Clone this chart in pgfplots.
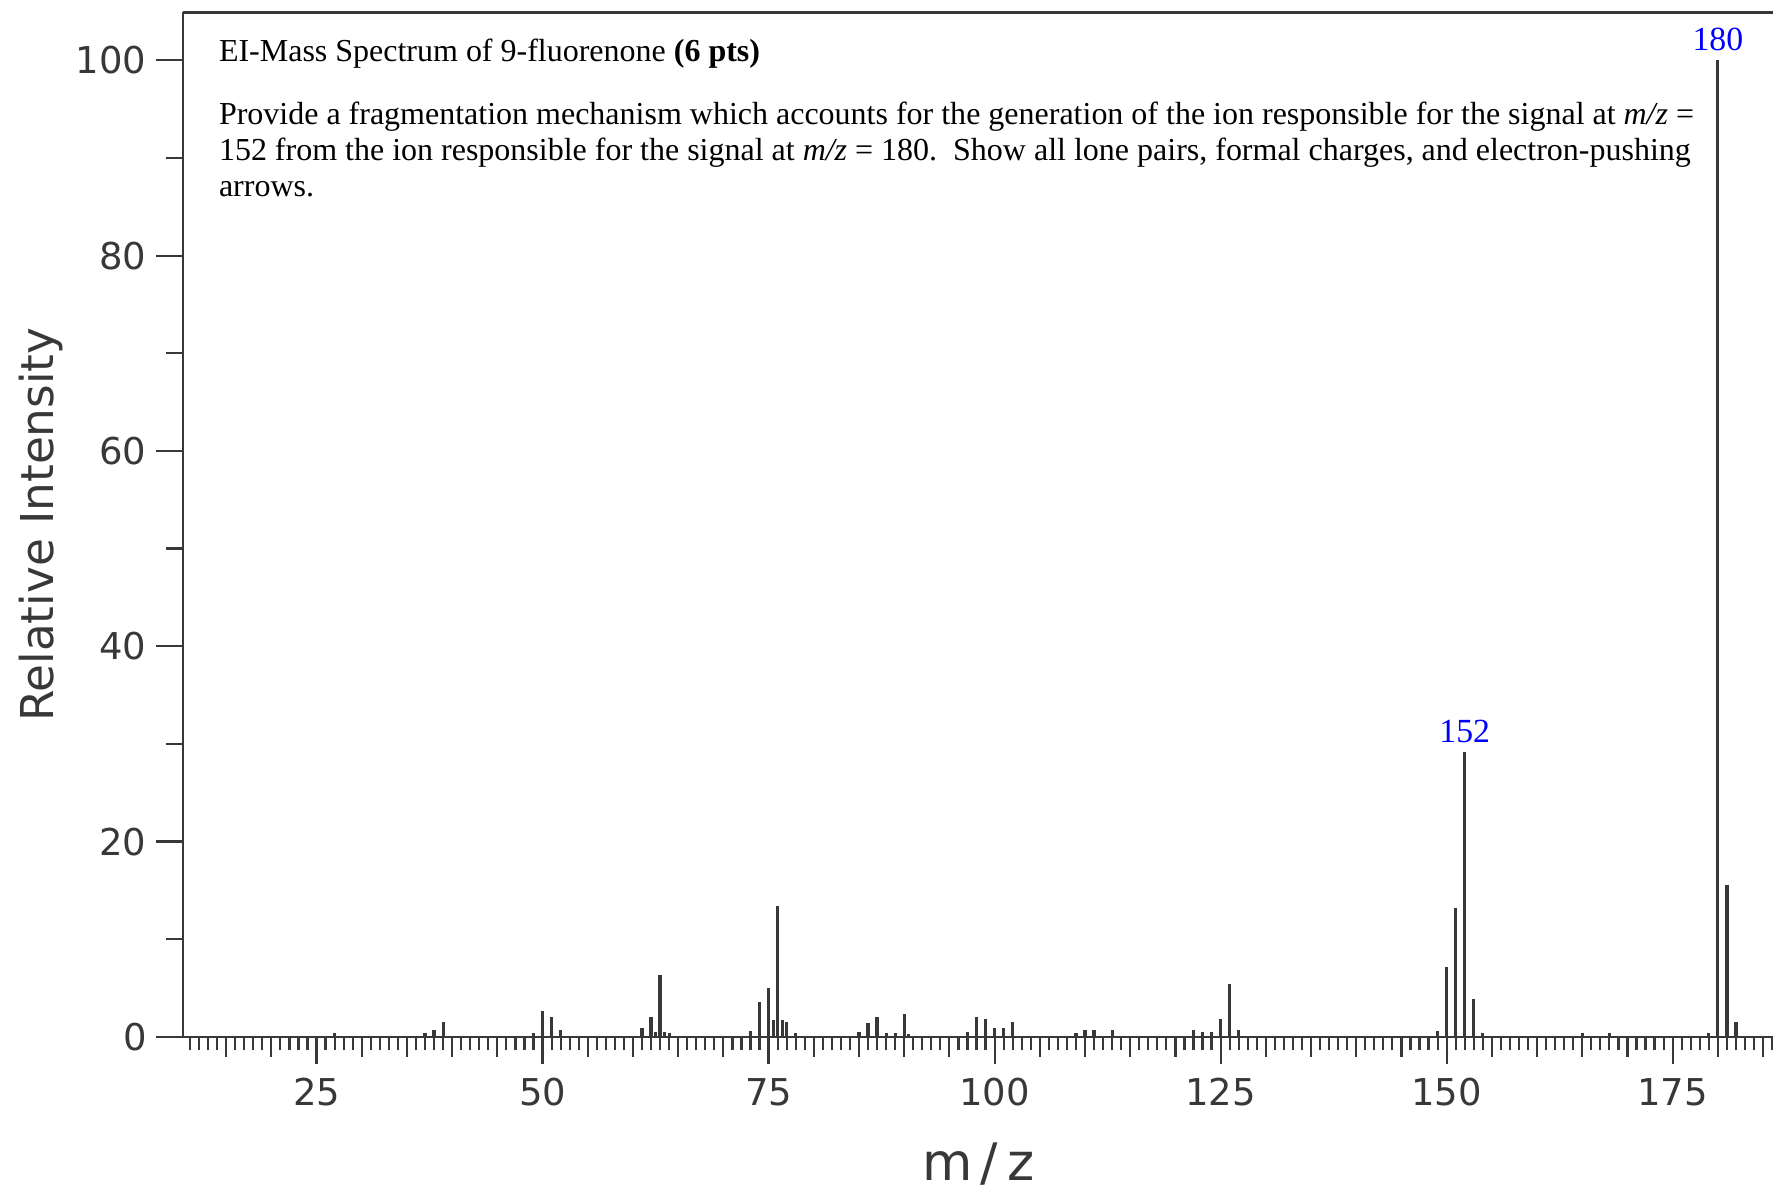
\documentclass[border=0pt]{standalone}
\usepackage{fontspec}
\setmainfont{Liberation Serif}
\newfontfamily\labelfont{DejaVu Sans}
\usepackage{pgfplots}
\pgfplotsset{compat=1.18}
\definecolor{axgray}{HTML}{383838}
\definecolor{peakblue}{RGB}{0,0,255}

\begin{document}
\begin{tikzpicture}
\begin{axis}[
    scale only axis, width=14.06cm, height=9.06cm,
    xmin=10.25, xmax=186.1, ymin=0, ymax=104.9,
    axis x line*=box, axis y line*=left,
    axis line style={axgray, line width=0.6pt, -},
    xtick={25,50,...,175}, ytick={0,20,...,100},
    xtick pos=left, ytick pos=left,
    tick align=outside,
    major tick length=0.24cm, minor tick length=0.12cm,
    minor xtick={11,...,186},
    extra x ticks={15,20,30,35,40,45,55,60,65,70,80,85,90,95,105,110,115,120,130,135,140,145,155,160,165,170,180,185},
    extra x tick labels={},
    extra x tick style={major tick length=0.18cm},
    extra y ticks={10,30,50,70,90}, extra y tick labels={},
    extra y tick style={major tick length=0.15cm},
    every tick/.style={axgray, line width=0.55pt},
    /pgf/number format/assume math mode=true,
    tick label style={font=\labelfont\fontsize{9.3}{11}\selectfont, text=axgray},
    yticklabel style={xshift=0.04cm},
    xlabel={m\,/\,z}, ylabel={Relative Intensity},
    xlabel style={at={(axis description cs:0.5,-0.124)}, anchor=center,
        font=\labelfont\fontsize{13}{15}\selectfont, text=axgray},
    ylabel style={at={(axis description cs:-0.0895,0.5)}, anchor=center,
        font=\labelfont\fontsize{11.4}{13}\selectfont, text=axgray},
]
% EI mass spectrum peaks (m/z, relative intensity)
\addplot[ycomb, axgray, line width=0.8pt] coordinates {
    (27,0.4) (37,0.4) (38,0.7) (39,1.5)
    (49,0.4) (50,2.6) (51,2.0) (52,0.7)
    (61,0.9) (62,2.0) (62.5,0.5) (63,6.3) (63.5,0.5) (64,0.4)
    (73,0.6) (74,3.6) (75,5.0) (75.5,1.7) (76,13.4) (76.5,1.7) (77,1.5) (78,0.35)
    (85,0.55) (86,1.4) (87,2.0) (88,0.35) (89,0.35) (90,2.3) (90.5,0.3)
    (97,0.45) (98,2.0) (99,1.8) (100,0.9) (101,0.9) (102,1.5)
    (109,0.4) (110,0.7) (111,0.7) (113,0.7)
    (122,0.7) (123,0.5) (124,0.5) (125,1.8) (126,5.4) (127,0.7)
    (149,0.6) (150,7.2) (151,13.2) (152,29.2) (153,3.9) (154,0.4)
    (165,0.4) (168,0.4) (179,0.4) (180,100) (181,15.6) (182,1.5)
};
\node[anchor=base, text=peakblue, font=\fontsize{8.5}{10}\selectfont, yshift=0.09cm]
    at (axis cs:180,100) {180};
\node[anchor=base, text=peakblue, font=\fontsize{8.5}{10}\selectfont, yshift=0.08cm]
    at (axis cs:152,29.2) {152};
\node[anchor=base west, inner sep=0pt, font=\fontsize{8.05}{9.1}\selectfont]
    at (rel axis cs:0.02205,0.9525) {EI-Mass Spectrum of 9-fluorenone \textbf{(6 pts)}};
\node[anchor=base west, inner sep=0pt, font=\fontsize{8.05}{9.1}\selectfont]
    at (rel axis cs:0.02205,0.8907) {Provide a fragmentation mechanism which accounts for the generation of the ion responsible for the signal at \textit{m/z} =};
\node[anchor=base west, inner sep=0pt, font=\fontsize{8.05}{9.1}\selectfont]
    at (rel axis cs:0.02205,0.8554) {152 from the ion responsible for the signal at \textit{m/z} = 180.\ \ Show all lone pairs, formal charges, and electron-pushing};
\node[anchor=base west, inner sep=0pt, font=\fontsize{8.05}{9.1}\selectfont]
    at (rel axis cs:0.02205,0.8201) {arrows.};
\end{axis}
\pgfresetboundingbox
\path (-1.62cm,-1.37cm) rectangle (14.06cm,9.17cm);
\end{tikzpicture}
\end{document}
